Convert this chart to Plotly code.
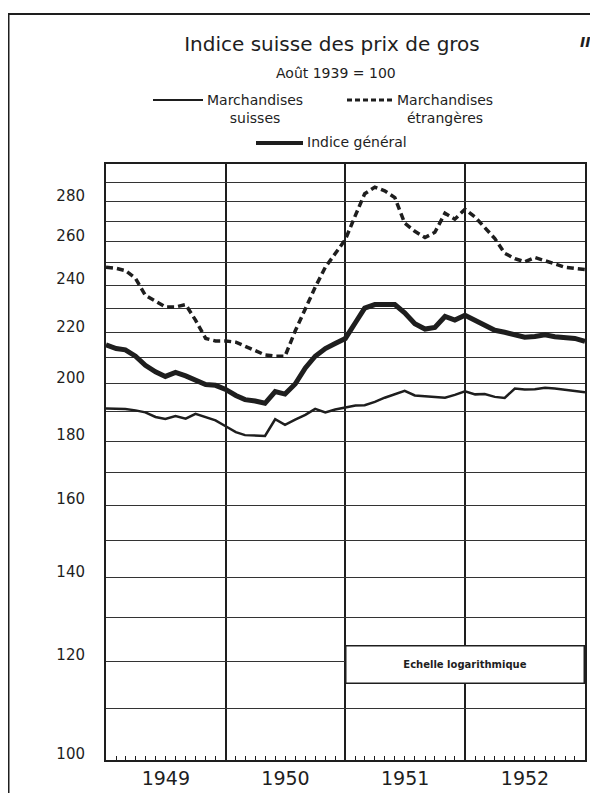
import plotly.graph_objects as go
import pandas as pd
import math

# ---- data (monthly, Dec 1948 .. Dec 1952), index Août 1939 = 100 ----
months = pd.date_range("1949-01-01", "1953-01-01", freq="MS")

suisses = [191.2, 191.2, 191.0, 190.5, 189.8, 188.2, 187.5, 188.5, 187.6, 189.3, 188.2, 187.0, 185.0,
           183.0, 182.0, 181.8, 181.7, 187.4, 185.5, 187.3, 188.9, 191.0, 189.8, 190.8, 191.6,
           192.2, 192.3, 193.5, 195.0, 196.3, 197.5, 195.8, 195.5, 195.3, 195.0, 196.0, 197.3,
           196.2, 196.3, 195.3, 194.9, 198.3, 198.0, 198.1, 198.6, 198.3, 197.8, 197.4, 197.0]

etrangeres = [248.0, 247.5, 246.5, 243.0, 235.5, 233.0, 230.5, 230.5, 231.5, 225.0, 217.5, 216.5, 216.5,
              216.0, 214.5, 212.5, 211.0, 210.5, 210.5, 220.5, 230.0, 239.0, 248.0, 254.5, 261.0,
              273.0, 284.0, 287.5, 285.5, 282.0, 269.0, 265.0, 262.0, 264.5, 274.0, 271.0, 276.0,
              272.0, 267.0, 261.5, 254.5, 252.0, 250.5, 252.5, 251.0, 249.5, 248.0, 247.5, 247.0]

general = [215.0, 213.5, 213.0, 210.5, 207.0, 204.5, 202.8, 204.3, 203.0, 201.5, 199.8, 199.5, 198.0,
           195.8, 194.3, 193.8, 193.0, 197.2, 196.3, 200.0, 206.0, 210.5, 213.5, 215.5, 217.5,
           224.0, 230.0, 231.5, 231.5, 231.5, 228.0, 223.5, 221.3, 222.0, 226.5, 225.0, 227.0,
           225.0, 223.0, 220.8, 220.0, 219.0, 218.0, 218.3, 219.0, 218.2, 217.8, 217.5, 216.3]

series_names = ["Marchandises<br>suisses", "Marchandises<br>étrangères", "Indice général"]

grid_vals = list(range(100, 300, 10))
label_vals = [100, 120, 140, 160, 180, 200, 220, 240, 260, 280]
tick_text = [str(v) if v in label_vals else "" for v in grid_vals]

INK = "#1e1e1e"
FONT = "DejaVu Sans"

# page is shifted by the 8px body margin; figure is sized to fit the window
OFF = 8
W, H = 598 - OFF, 793 - OFF
PL, PR, PT, PB = 106, 585, 164, 760          # plot area in page pixels
L, R, T, B = PL - OFF, W - (PR - OFF), PT - OFF, H - (PB - OFF)
pw, ph = PR - PL, PB - PT

def px(xp):
    return (xp - PL) / pw

def py(yp):
    return (PB - yp) / ph

fig = go.Figure()
styles = [dict(color=INK, width=2.5),
          dict(color=INK, width=3.5, dash="7px,4px"),
          dict(color=INK, width=5)]
for name, ys, st in zip(series_names, [suisses, etrangeres, general], styles):
    fig.add_trace(go.Scatter(x=months, y=ys, mode="lines", name=name,
                             line=st, showlegend=False, hoverinfo="x+y+name"))

fig.update_layout(
    width=W, height=H, autosize=False,
    margin=dict(l=L, r=R, t=T, b=B, autoexpand=False),
    paper_bgcolor="white", plot_bgcolor="white",
    title=dict(text="Indice suisse des prix de gros", x=px(332), xref="paper", xanchor="center",
               y=1 - (44 - OFF) / H, yref="container", yanchor="middle",
               font=dict(family=FONT, size=20, color=INK)),
    xaxis=dict(type="date", range=["1949-01-01", "1953-01-01"],
               tickmode="linear", tick0="1949-01-01", dtick="M12",
               ticklabelmode="period", tickformat="%Y",
               ticks="", showgrid=True, gridcolor=INK, gridwidth=2,
               showline=True, linecolor=INK, linewidth=2, mirror=True,
               tickfont=dict(family=FONT, size=19, color=INK),
               minor=dict(dtick="M1", tick0="1949-01-01", ticks="inside", ticklen=4,
                          tickcolor=INK, tickwidth=1, showgrid=False),
               zeroline=False),
    xaxis2=dict(type="date", overlaying="x", matches="x", anchor="y", side="bottom",
                range=["1949-01-01", "1953-01-01"],
                tickmode="linear", tick0="1949-01-01", dtick="M3",
                ticks="inside", ticklen=8, tickcolor=INK, tickwidth=1,
                showticklabels=False, showgrid=False, showline=False, zeroline=False),
    yaxis=dict(type="log", range=[2, math.log10(300)],
               tickmode="array", tickvals=grid_vals, ticktext=tick_text,
               ticks="", showgrid=True, gridcolor="#333333", gridwidth=1,
               showline=True, linecolor=INK, linewidth=2, mirror=True,
               tickfont=dict(family=FONT, size=15, color=INK),
               ticklabelshift=-6, ticklabelstandoff=16, zeroline=False),
)

# subtitle and page mark
fig.add_annotation(text="Août 1939 = 100", xref="paper", yref="paper",
                   x=px(336), y=py(73), xanchor="center", yanchor="middle", showarrow=False,
                   font=dict(family=FONT, size=14, color=INK))
fig.add_annotation(text="<i><b>II</b></i>", xref="paper", yref="paper",
                   x=px(585), y=py(42), xanchor="center", yanchor="middle", showarrow=False,
                   font=dict(family=FONT, size=14, color=INK))

# legend: sample line + label
legend_items = [
    # (line x0, x1, line y, text left x, text top y)
    (153, 203, 100, 205, 90),
    (347, 393, 100, 395, 90),
    (256, 303, 143, 305, 132),
]
legend_dash = [None, "5px,3px", None]
legend_width = [2, 3, 4]
for (x0, x1, ly, tx, ty), name, dsh, lw in zip(legend_items, series_names, legend_dash, legend_width):
    fig.add_shape(type="line", xref="paper", yref="paper",
                  x0=px(x0), x1=px(x1), y0=py(ly), y1=py(ly),
                  line=dict(color=INK, width=lw, dash=dsh))
    fig.add_annotation(text=name, xref="paper", yref="paper", x=px(tx), y=py(ty),
                       xanchor="left", yanchor="top", align="center", showarrow=False,
                       font=dict(family=FONT, size=14, color=INK))

fig.add_annotation(text="<b>Echelle logarithmique</b>", xref="x", yref="y",
                   x="1952-01-01", y=math.log10(119.3), showarrow=False,
                   width=237, height=36, borderpad=0,
                   bgcolor="white", bordercolor=INK, borderwidth=1.5,
                   font=dict(family=FONT, size=10, color=INK))

# outer page frame
fig.add_shape(type="rect", xref="paper", yref="paper",
              x0=px(8.5), x1=px(620), y0=py(820), y1=py(14),
              line=dict(color=INK, width=2), fillcolor="rgba(0,0,0,0)", layer="below")

fig.write_html("out.html")
